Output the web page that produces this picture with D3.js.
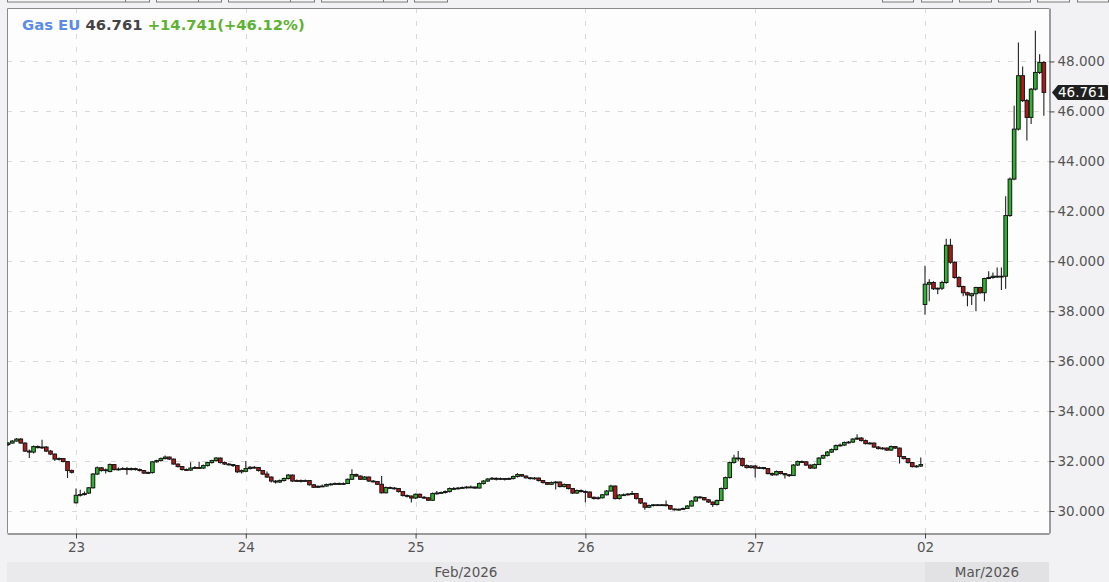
<!DOCTYPE html>
<html><head><meta charset="utf-8">
<script src="https://cdn.jsdelivr.net/npm/d3@7"></script>
<style>
html,body{margin:0;padding:0;background:#f2f2f4;}
svg{display:block;}
text{font-family:"DejaVu Sans",Verdana,sans-serif;}
</style></head><body>
<svg id="c" width="1109" height="582"></svg>
<script>
// ---- data: 15-minute candles [open, high, low, close] ----
const seriesName = "Gas EU";
const lastValue = 46.761;
const changeAbs = "+14.741";
const changePct = "(+46.12%)";

const feb20 = [
[32.66,32.76,32.60,32.72],[32.72,32.84,32.70,32.80],[32.80,32.92,32.78,32.88],[32.88,32.92,32.70,32.72],
[32.72,32.75,32.36,32.40],[32.40,32.46,32.12,32.36],[32.36,32.62,32.30,32.58],[32.58,32.62,32.50,32.54],
[32.54,32.85,32.48,32.56],[32.56,32.60,32.36,32.40],[32.40,32.44,32.24,32.28],[32.28,32.30,32.00,32.08],
[32.08,32.14,32.02,32.10],[32.10,32.12,31.95,31.98],[31.98,32.00,31.32,31.62],[31.62,31.66,31.50,31.55]
];
const feb23 = [
[30.33,30.90,30.30,30.63],[30.63,30.85,30.58,30.66],[30.66,30.78,30.62,30.70],[30.72,30.96,30.68,30.93],
[30.93,31.52,30.90,31.48],[31.48,31.78,31.44,31.73],[31.73,31.76,31.58,31.62],[31.62,31.70,31.50,31.65],
[31.58,31.90,31.55,31.86],[31.86,31.88,31.62,31.66],[31.66,31.74,31.62,31.68],[31.68,31.75,31.64,31.70],
[31.70,31.76,31.45,31.66],[31.66,31.74,31.62,31.70],[31.70,31.73,31.62,31.66],[31.66,31.70,31.58,31.62],
[31.62,31.64,31.48,31.52],[31.52,31.58,31.48,31.54],[31.54,32.00,31.50,31.97],[31.97,32.05,31.93,32.02],
[32.02,32.14,31.98,32.10],[32.10,32.22,32.06,32.16],[32.16,32.18,32.04,32.08],[32.08,32.10,31.86,31.88],
[31.88,31.90,31.74,31.78],[31.78,31.80,31.62,31.66],[31.66,31.70,31.60,31.64],[31.64,31.95,31.60,31.72],
[31.72,31.80,31.68,31.74],[31.74,31.97,31.68,31.72],[31.72,31.86,31.68,31.82],[31.82,31.97,31.78,31.94],
[31.94,32.05,31.90,32.02],[32.02,32.16,31.98,32.12],[32.12,32.14,31.90,31.94],[31.94,31.98,31.84,31.88],
[31.88,31.92,31.82,31.86],[31.86,31.88,31.76,31.82],[31.82,31.84,31.52,31.57],[31.57,31.66,31.50,31.62]
];
const feb24 = [
[31.59,32.00,31.55,31.70],[31.70,31.80,31.66,31.75],[31.75,31.80,31.70,31.74],[31.74,31.76,31.58,31.62],
[31.62,31.64,31.44,31.48],[31.48,31.58,31.32,31.36],[31.36,31.38,31.14,31.20],[31.20,31.24,31.10,31.16],
[31.16,31.26,31.12,31.22],[31.22,31.34,31.18,31.30],[31.30,31.48,31.26,31.44],[31.44,31.46,31.16,31.20],
[31.20,31.26,31.16,31.22],[31.22,31.26,31.14,31.19],[31.19,31.26,31.16,31.22],[31.22,31.24,31.02,31.05],
[31.05,31.08,30.92,30.95],[30.95,31.02,30.92,30.99],[30.99,31.06,30.96,31.00],[31.00,31.10,30.98,31.06],
[31.06,31.12,31.02,31.08],[31.08,31.14,31.04,31.10],[31.10,31.14,31.04,31.08],[31.08,31.14,31.04,31.10],
[31.10,31.30,31.08,31.27],[31.27,31.67,31.24,31.46],[31.46,31.50,31.36,31.40],[31.40,31.42,31.24,31.27],
[31.27,31.40,31.24,31.36],[31.36,31.38,31.16,31.20],[31.20,31.24,31.14,31.18],[31.18,31.20,31.04,31.07],
[31.07,31.40,30.70,30.73],[30.73,30.98,30.70,30.94],[30.94,30.98,30.88,30.92],[30.92,30.96,30.86,30.90],
[30.90,30.92,30.74,30.78],[30.78,30.80,30.58,30.62],[30.62,30.66,30.54,30.60],[30.60,30.62,30.34,30.52]
];
const feb25 = [
[30.52,30.70,30.48,30.67],[30.67,30.70,30.52,30.55],[30.55,30.60,30.48,30.53],[30.53,30.56,30.40,30.43],
[30.43,30.74,30.40,30.70],[30.70,30.80,30.66,30.72],[30.72,30.78,30.68,30.74],[30.74,30.82,30.70,30.78],
[30.78,30.94,30.74,30.90],[30.90,30.96,30.86,30.90],[30.90,30.96,30.86,30.92],[30.92,30.98,30.88,30.94],
[30.94,31.00,30.90,30.96],[30.96,31.02,30.92,30.96],[30.96,30.98,30.88,30.92],[30.92,31.14,30.90,31.10],
[31.10,31.24,31.06,31.20],[31.20,31.32,31.16,31.28],[31.28,31.36,31.24,31.31],[31.31,31.34,31.22,31.27],
[31.27,31.34,31.24,31.30],[31.30,31.32,31.22,31.27],[31.27,31.34,31.24,31.30],[31.30,31.42,31.26,31.38],
[31.38,31.52,31.34,31.46],[31.46,31.48,31.36,31.40],[31.40,31.42,31.30,31.33],[31.33,31.36,31.26,31.30],
[31.30,31.36,31.26,31.32],[31.32,31.34,31.18,31.22],[31.22,31.24,31.10,31.14],[31.14,31.16,31.04,31.07],
[31.07,31.18,31.04,31.14],[31.14,31.20,30.86,31.16],[31.16,31.18,30.94,30.98],[30.98,31.10,30.94,31.06],
[31.06,31.08,30.86,30.90],[30.90,30.92,30.68,30.72],[30.72,30.86,30.68,30.82],[30.82,30.86,30.74,30.78]
];
const feb26 = [
[30.78,30.82,30.35,30.76],[30.76,30.78,30.52,30.55],[30.55,30.58,30.46,30.50],[30.50,30.58,30.46,30.53],
[30.53,30.68,30.50,30.65],[30.65,30.84,30.62,30.80],[30.80,31.05,30.78,31.00],[31.00,31.02,30.46,30.50],
[30.50,30.68,30.46,30.64],[30.64,30.70,30.60,30.65],[30.65,30.72,30.62,30.68],[30.68,30.80,30.64,30.70],
[30.70,30.72,30.46,30.50],[30.50,30.52,30.28,30.32],[30.32,30.34,30.05,30.15],[30.15,30.26,30.12,30.22],
[30.22,30.28,30.18,30.25],[30.25,30.28,30.20,30.24],[30.24,30.28,30.20,30.25],[30.25,30.42,30.18,30.22],
[30.22,30.24,30.04,30.08],[30.08,30.10,30.02,30.05],[30.05,30.10,30.02,30.07],[30.07,30.14,30.04,30.10],
[30.10,30.24,30.08,30.20],[30.20,30.44,30.18,30.40],[30.40,30.60,30.38,30.56],[30.56,30.60,30.50,30.54],
[30.54,30.56,30.42,30.45],[30.45,30.48,30.32,30.36],[30.36,30.38,30.16,30.26],[30.26,30.46,30.22,30.42],
[30.42,30.94,30.40,30.90],[30.90,31.38,30.86,31.34],[31.34,31.98,31.30,31.94],[31.94,32.25,31.90,32.12],
[32.12,32.40,32.00,32.10],[32.10,32.14,31.78,31.82],[31.82,31.86,31.70,31.74],[31.74,31.84,31.70,31.80]
];
const feb27 = [
[31.80,31.84,31.34,31.72],[31.72,31.78,31.68,31.74],[31.74,31.76,31.66,31.70],[31.70,31.72,31.46,31.50],
[31.50,31.54,31.40,31.45],[31.45,31.62,31.42,31.58],[31.58,31.60,31.46,31.50],[31.50,31.52,31.30,31.45],
[31.45,31.48,31.36,31.42],[31.42,31.88,31.40,31.84],[31.84,32.02,31.80,31.98],[31.98,32.02,31.92,31.97],
[31.97,31.99,31.80,31.84],[31.84,31.86,31.68,31.72],[31.72,31.90,31.68,31.86],[31.86,32.16,31.84,32.12],
[32.12,32.26,32.08,32.22],[32.22,32.40,32.18,32.36],[32.36,32.50,32.32,32.46],[32.46,32.66,32.42,32.62],
[32.62,32.70,32.58,32.64],[32.64,32.78,32.60,32.74],[32.74,32.80,32.70,32.76],[32.76,32.92,32.72,32.88],
[32.88,33.07,32.84,32.92],[32.92,32.96,32.78,32.82],[32.82,32.86,32.66,32.70],[32.70,32.76,32.66,32.72],
[32.72,32.74,32.52,32.56],[32.56,32.60,32.46,32.50],[32.50,32.56,32.46,32.52],[32.52,32.54,32.40,32.44],
[32.44,32.62,32.40,32.58],[32.58,32.60,32.48,32.52],[32.52,32.54,31.90,32.18],[32.18,32.20,32.06,32.10],
[32.10,32.12,31.90,31.94],[31.94,31.96,31.74,31.78],[31.78,31.84,31.74,31.80],[31.80,32.14,31.76,31.86]
];
const mar02 = [
[38.27,39.82,37.86,39.08],[39.08,39.28,38.40,39.15],[39.15,39.20,38.85,38.90],[38.90,38.95,38.68,38.92],
[38.92,39.22,38.85,39.15],[39.15,40.90,39.10,40.64],[40.64,40.90,39.90,39.96],[39.96,40.00,39.30,39.35],
[39.35,39.40,38.95,38.99],[38.99,39.02,38.60,38.74],[38.74,38.78,38.20,38.65],[38.62,38.74,38.25,38.70],
[38.70,38.98,38.00,38.95],[38.95,38.98,38.70,38.74],[38.74,39.34,38.40,39.31],[39.31,39.60,39.28,39.35],
[39.35,39.55,39.30,39.40],[39.40,39.75,39.34,39.38],[39.38,39.75,38.85,39.40],[39.40,42.60,38.90,41.83],
[41.83,43.35,41.78,43.29],[43.29,46.23,43.24,45.29],[45.29,48.76,45.24,47.43],[47.43,47.80,46.38,46.43],
[46.43,46.50,44.83,45.76],[45.76,46.94,45.50,46.89],[46.89,49.23,46.84,47.56],[47.56,48.29,47.50,47.96],
[47.96,48.02,45.83,46.761]
];

// trading days (Feb 20 only partially visible)
const days = [feb20, feb23, feb24, feb25, feb26, feb27, mar02];
const dayLabels = ["20","23","24","25","26","27","02"];
const xTickLabels = ["23","24","25","26","27","02"];
const monthLabels = ["Feb/2026","Mar/2026"];
const yTicks = [30,32,34,36,38,40,42,44,46,48];
const candlesPerDay = 40;

// ---- layout ----
const W = 1109, H = 582;
const P = {l:7, t:8, r:1049, b:533};
const svg = d3.select("#c");

// build indexed candles
const candles = [];
days.forEach((d, di) => {
  const start = 16 + candlesPerDay*(di-1) + (di === 0 ? candlesPerDay - d.length : 0);
  d.forEach((c, j) => candles.push({i: start + j, o:c[0], h:c[1], l:c[2], c:c[3]}));
});
const dayStartIdx = xTickLabels.map((_, k) => 16 + candlesPerDay*k);

const x0 = d3.scaleLinear().domain([16, 216]).range([76, 925]);
const x = d3.scaleLinear().domain([x0.invert(P.l), x0.invert(P.r)]).range([P.l, P.r]);
const y = d3.scaleLinear().domain([29.12, 50.14]).range([P.b, P.t]);

// top toolbar stubs
const btnL = [[7,149,125],[156,221,198],[228,314,290],[321,407,383],[414,447,null]];
const btnR = [[882,913],[921,952],[959,991],[998,1030],[1037,1069],[1077,1108]];
const tb = svg.append("g");
btnL.concat(btnR).forEach(b => {
  tb.append("rect").attr("x", b[0]+0.5).attr("y", -10).attr("width", b[1]-b[0]).attr("height", 12)
    .attr("fill", "#f7f7f7").attr("stroke", "#7a7a7a");
  if (b[2]) tb.append("line").attr("x1", b[2]+0.5).attr("x2", b[2]+0.5).attr("y1", -10).attr("y2", 2).attr("stroke", "#7a7a7a");
});

// month strip
const monthStart = [P.l, x(216)];
const monthEnd = [x(216), P.r];
svg.append("rect").attr("x", P.l).attr("y", 562).attr("width", x(216)-P.l).attr("height", 20).attr("fill", "#eaeaec");
svg.append("rect").attr("x", x(216)).attr("y", 562).attr("width", P.r - x(216)).attr("height", 20).attr("fill", "#e2e2e4");
monthLabels.forEach((m, k) => {
  svg.append("text").attr("x", (monthStart[k]+monthEnd[k])/2).attr("y", 577)
    .attr("text-anchor", "middle").attr("font-size", "13.5px").attr("fill", "#555").text(m);
});

// plot background
svg.append("rect").attr("x", P.l).attr("y", P.t).attr("width", P.r-P.l).attr("height", P.b-P.t).attr("fill", "#fdfdfd");

// gridlines
const grid = svg.append("g").attr("stroke", "#d9d9d9").attr("stroke-dasharray", "5,8");
yTicks.forEach(v => grid.append("line").attr("x1", P.l).attr("x2", P.r)
  .attr("y1", Math.round(y(v))+0.5).attr("y2", Math.round(y(v))+0.5));
dayStartIdx.forEach(i => grid.append("line").attr("y1", P.t).attr("y2", P.b)
  .attr("x1", Math.round(x(i))+0.5).attr("x2", Math.round(x(i))+0.5));

// frame (left/top)
svg.append("path").attr("d", `M${P.l+0.5},${P.b}V${P.t+0.5}H${P.r}`).attr("fill","none").attr("stroke","#8a8a8a");

// candles
svg.append("clipPath").attr("id","clip").append("rect").attr("x",P.l).attr("y",P.t).attr("width",P.r-P.l).attr("height",P.b-P.t);
const cg = svg.append("g").attr("clip-path","url(#clip)");
const up = "#2cb42c", dn = "#b31818";
cg.selectAll("line.w").data(candles).join("line").attr("class","w")
  .attr("x1", d => x(d.i)).attr("x2", d => x(d.i))
  .attr("y1", d => y(d.h)).attr("y2", d => y(d.l))
  .attr("stroke", "#222").attr("stroke-width", 1.1);
cg.selectAll("rect.b").data(candles).join("rect").attr("class","b")
  .attr("x", d => x(d.i) - 1.8).attr("width", 3.6)
  .attr("y", d => y(Math.max(d.o, d.c)))
  .attr("height", d => Math.max(0.8, Math.abs(y(d.o) - y(d.c))))
  .attr("fill", d => d.c >= d.o ? up : dn)
  .attr("stroke", "#161616").attr("stroke-width", 1);

// y axis (right)
const yAxis = d3.axisRight(y).tickValues(yTicks).tickSize(5).tickSizeOuter(0).tickPadding(3).tickFormat(d3.format(".3f"));
const ya = svg.append("g").attr("transform", `translate(${P.r+0.5},0)`).call(yAxis);
ya.select(".domain").attr("stroke", "#444");
ya.selectAll(".tick line").attr("stroke", "#444");
ya.selectAll(".tick text").attr("font-size", "13.5px").attr("fill", "#555").attr("font-family", "DejaVu Sans, sans-serif");

// x axis (bottom)
const xAxis = d3.axisBottom(x).tickValues(dayStartIdx).tickSize(5).tickSizeOuter(0).tickPadding(4)
  .tickFormat((d, k) => xTickLabels[k]);
const xa = svg.append("g").attr("transform", `translate(0,${P.b+0.5})`).call(xAxis);
xa.select(".domain").attr("stroke", "#444");
xa.selectAll(".tick line").attr("stroke", "#444");
xa.selectAll(".tick text").attr("font-size", "13.5px").attr("fill", "#555").attr("font-family", "DejaVu Sans, sans-serif");

// last price label
const ly = y(lastValue);
svg.append("path").attr("d", `M${P.r+3},${ly}L${P.r+9},${ly-7.5}H1107Q1108,${ly-7.5} 1108,${ly-6.5}V${ly+6.5}Q1108,${ly+7.5} 1107,${ly+7.5}H${P.r+9}Z`)
  .attr("fill", "#1f1f1f");
svg.append("text").attr("x", 1058).attr("y", ly).attr("dy", "0.36em").attr("font-size", "13.5px")
  .attr("fill", "#fff").text(d3.format(".3f")(lastValue));

// legend
const lg = svg.append("text").attr("x", 22).attr("y", 30).attr("font-size", "14.8px").attr("font-weight", "bold");
lg.append("tspan").attr("fill", "#5b8de8").text(seriesName + " ");
lg.append("tspan").attr("fill", "#444").text(d3.format(".3f")(lastValue) + " ");
lg.append("tspan").attr("fill", "#5db232").text(changeAbs + changePct);
</script>
</body></html>
